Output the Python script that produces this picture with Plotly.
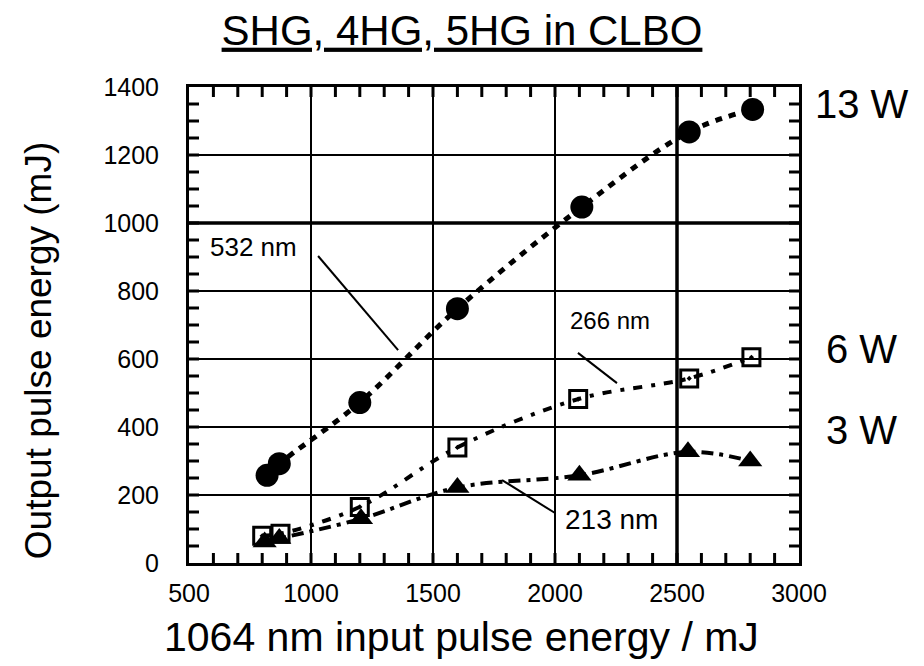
import plotly.graph_objects as go

# ---- data ----
x_532 = [820, 870, 1200, 1600, 2110, 2550, 2810]
y_532 = [258, 292, 472, 748, 1047, 1268, 1334]

x_266 = [800, 875, 1200, 1600, 2095, 2550, 2805]
y_266 = [80, 86, 165, 340, 482, 543, 605]

x_213 = [810, 870, 1205, 1600, 2100, 2545, 2800]
y_213 = [62, 72, 130, 222, 258, 327, 300]

x_ticks = [500, 1000, 1500, 2000, 2500, 3000]
y_ticks = [0, 200, 400, 600, 800, 1000, 1200, 1400]
x_minor_step = 100
y_minor_step = 50

title_text = "SHG, 4HG, 5HG in CLBO"
x_title = "1064 nm input pulse energy / mJ"
y_title = "Output pulse energy (mJ)"

power_labels = ["13 W", "6 W", "3 W"]
power_levels = [1350, 630, 390]

FONT = "Liberation Sans, Arial, sans-serif"

W, H = 924, 666
ML, MR, MT, MB = 189, 125, 87, 103
PW, PH = W - ML - MR, H - MT - MB
TICK_PX = 10

x_minor_vals = list(range(x_ticks[0] + x_minor_step, x_ticks[-1], x_minor_step))
y_minor_vals = list(range(y_ticks[0] + y_minor_step, y_ticks[-1], y_minor_step))

fig = go.Figure()

fig.add_trace(go.Scatter(
    x=x_532, y=y_532, mode="lines+markers", line_shape="spline",
    line=dict(color="black", width=5, dash="7px,7px"),
    marker=dict(symbol="circle", size=23, color="black"),
    name="532 nm", cliponaxis=False))

fig.add_trace(go.Scatter(
    x=x_266, y=y_266, mode="lines+markers", line_shape="spline",
    line=dict(color="black", width=4, dash="9px,9px,4px,9px"),
    marker=dict(symbol="square-open-dot", size=17, color="black",
                line=dict(width=3, color="black")),
    name="266 nm", cliponaxis=False))

fig.add_trace(go.Scatter(
    x=x_213, y=y_213, mode="lines+markers", line_shape="spline",
    line=dict(color="black", width=4, dash="12px,6px,4px,6px"),
    marker=dict(symbol="triangle-up", size=21, color="black"),
    name="213 nm", cliponaxis=False))

# thicker emphasised grid lines
fig.add_shape(type="line", xref="x", yref="paper", x0=2500, x1=2500, y0=0, y1=1,
              line=dict(color="black", width=3.5), layer="below")
fig.add_shape(type="line", xref="paper", yref="y", x0=0, x1=1, y0=1000, y1=1000,
              line=dict(color="black", width=3.5), layer="below")

# small inside tick marks on all four sides of the frame
tick_style = dict(color="black", width=3)
ty = TICK_PX / PH
tx = TICK_PX / PW
for xv in x_minor_vals:
    fig.add_shape(type="line", xref="x", yref="paper", x0=xv, x1=xv, y0=0, y1=ty,
                  line=tick_style, layer="above")
    fig.add_shape(type="line", xref="x", yref="paper", x0=xv, x1=xv, y0=1, y1=1 - ty,
                  line=tick_style, layer="above")
for yv in y_minor_vals:
    fig.add_shape(type="line", xref="paper", yref="y", x0=0, x1=tx, y0=yv, y1=yv,
                  line=tick_style, layer="above")
    fig.add_shape(type="line", xref="paper", yref="y", x0=1, x1=1 - tx, y0=yv, y1=yv,
                  line=tick_style, layer="above")

# leader lines for the series labels
leaders = [((1029, 903), (1357, 626)),
           ((2094, 618), (2254, 529)),
           ((1783, 244), (2000, 147))]
for (xa, ya), (xb, yb) in leaders:
    fig.add_shape(type="line", xref="x", yref="y", x0=xa, y0=ya, x1=xb, y1=yb,
                  line=dict(color="black", width=2))

series_labels = [("532 nm", 766, 929, 26), ("266 nm", 2225, 712, 24), ("213 nm", 2230, 129, 28)]
for txt, xx, yy, fs in series_labels:
    fig.add_annotation(x=xx, y=yy, xref="x", yref="y", text=txt, showarrow=False,
                       font=dict(family=FONT, size=fs, color="black"),
                       xanchor="center", yanchor="middle")

for lab, lev in zip(power_labels, power_levels):
    fig.add_annotation(x=1.103, y=lev, xref="paper", yref="y", text=lab, showarrow=False,
                       font=dict(family=FONT, size=40, color="black"),
                       xanchor="center", yanchor="middle")

# axis titles
fig.add_annotation(x=-0.2475, y=0.445, xref="paper", yref="paper", text=y_title,
                   showarrow=False, textangle=-90,
                   font=dict(family=FONT, size=37, color="black"),
                   xanchor="center", yanchor="middle")
fig.add_annotation(x=0.447, y=-0.155, xref="paper", yref="paper", text=x_title,
                   showarrow=False,
                   font=dict(family=FONT, size=41, color="black"),
                   xanchor="center", yanchor="middle")

axis_common = dict(
    showline=True, linecolor="black", linewidth=3, mirror=True,
    ticks="", showgrid=True, gridcolor="black", gridwidth=1.6, zeroline=False,
    tickfont=dict(family=FONT, size=25, color="black"),
    tickmode="linear",
)

fig.update_layout(
    xaxis=dict(range=[x_ticks[0], x_ticks[-1]], tick0=x_ticks[0], dtick=x_ticks[1] - x_ticks[0],
               ticklabelstandoff=6, **axis_common),
    yaxis=dict(range=[y_ticks[0], y_ticks[-1]], tick0=y_ticks[0], dtick=y_ticks[1] - y_ticks[0],
               ticklabelstandoff=22, **axis_common),
    width=W, height=H,
    margin=dict(l=ML, r=MR, t=MT, b=MB),
    paper_bgcolor="white", plot_bgcolor="white",
    showlegend=False,
    title=dict(text="<u>" + title_text + "</u>", x=0.5, xref="container", xanchor="center",
               y=1 - 30 / H, yref="container", yanchor="middle",
               font=dict(family=FONT, size=42, color="black")),
)

fig.write_html("out.html")
